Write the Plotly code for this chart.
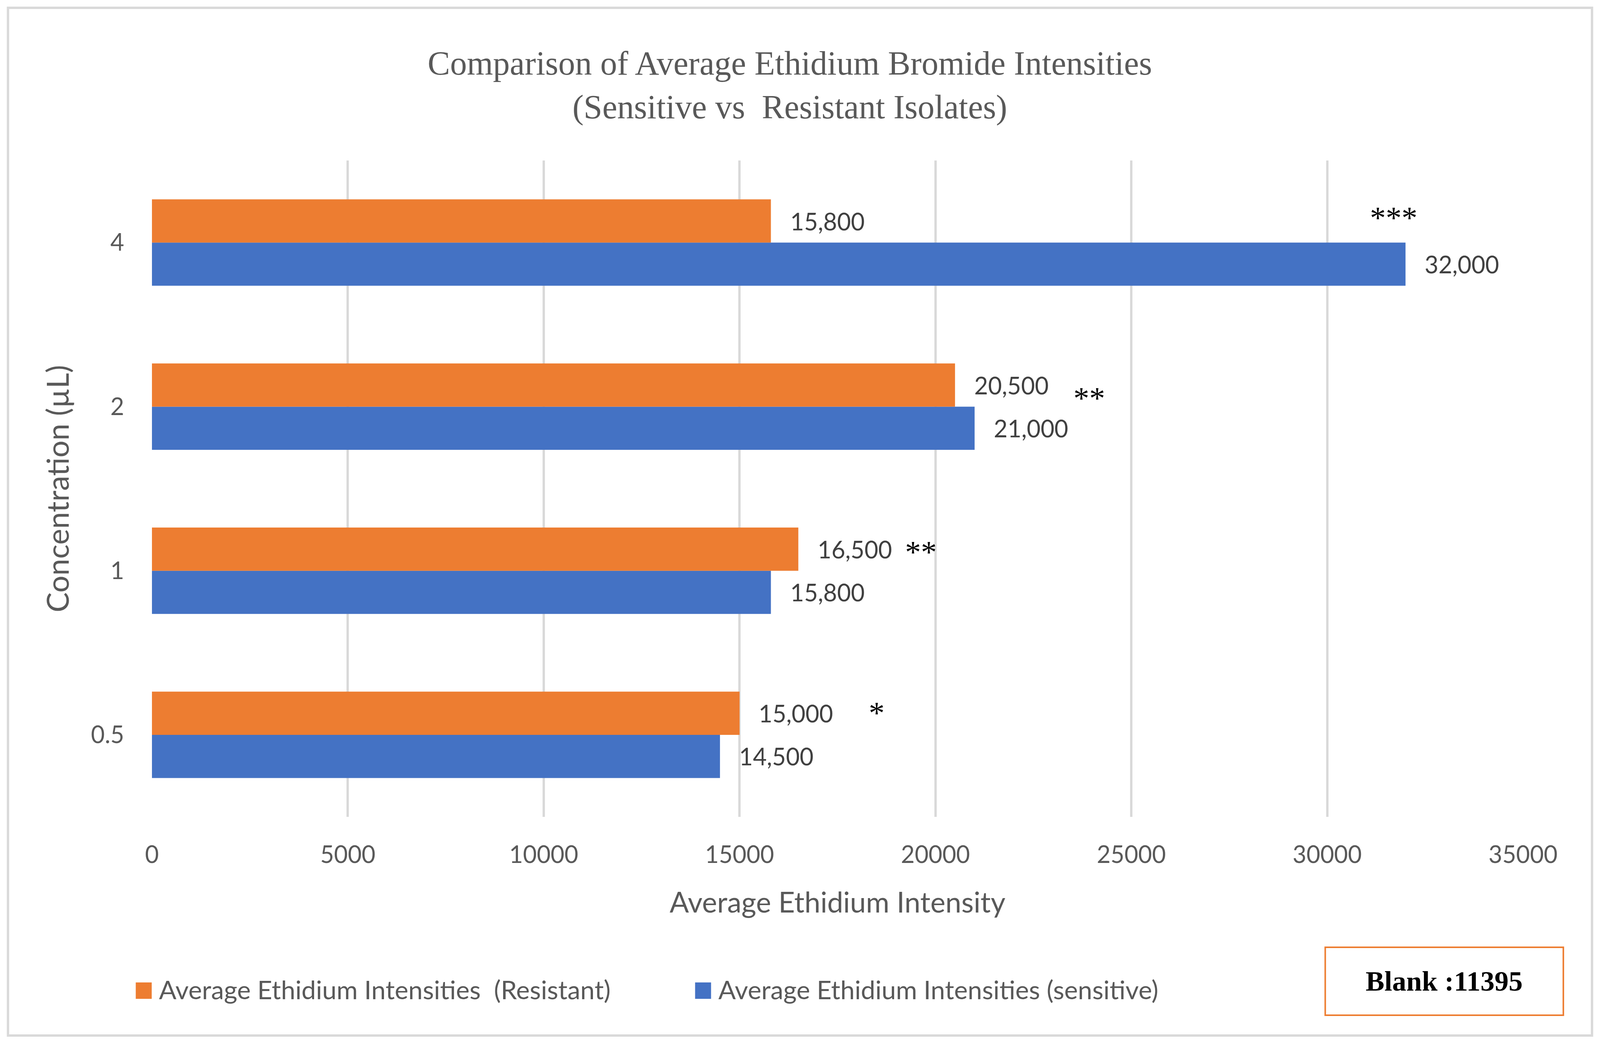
import plotly.graph_objects as go

# ---------------- data ----------------
concentrations = ["0.5", "1", "2", "4"]
sensitive = [14500, 15800, 21000, 32000]
resistant = [15000, 16500, 20500, 15800]
significance = ["*", "**", "**", "***"]
sig_x = [18500, 19630, 23930, 31700]
x_ticks = [0, 5000, 10000, 15000, 20000, 25000, 30000, 35000]
name_res = "Average Ethidium Intensities\u00a0 (Resistant)"
name_sen = "Average Ethidium Intensities (sensitive)"
title_text = "Comparison of Average Ethidium Bromide Intensities<br>(Sensitive vs\u00a0 Resistant Isolates)"
blank_text = "Blank :11395"

ORANGE = "#ED7D31"
BLUE = "#4472C4"
GRAY_TXT = "#595959"
LABEL_TXT = "#404040"
GRID = "#D9D9D9"

# page viewport ~4096 css px wide; map reference (4408 x 2666) coordinates onto it
SX = 4096 / 4408
OFF = 8
W, H = 4080, 2650
FS = 0.94  # font scale


def fx(X):
    return X * SX - OFF


def fy(Y):
    return Y - OFF


L = round(fx(419))
R = round(W - fx(4196))
T = round(fy(411))
B = round(H - fy(2092))
PW, PH = W - L - R, H - T - B


def px(X):
    return (fx(X) - L) / PW


def py(Y):
    return (H - B - fy(Y)) / PH


def fs(s):
    return round(s * FS)


SANS = "Lato"
SERIF = "Liberation Serif"

fig = go.Figure()
fig.add_trace(go.Bar(y=concentrations, x=sensitive, orientation="h", name=name_sen,
                     marker=dict(color=BLUE, line=dict(width=0)), showlegend=False))
fig.add_trace(go.Bar(y=concentrations, x=resistant, orientation="h", name=name_res,
                     marker=dict(color=ORANGE, line=dict(width=0)), showlegend=False))

ann = []
# data labels (y given as category index)
for i, v in enumerate(sensitive):
    ann.append(dict(x=v, y=i, xref="x", yref="y", text=f"{v:,}", showarrow=False,
                    xanchor="left", yanchor="middle", xshift=47, yshift=-55,
                    font=dict(family=SANS, size=fs(65), color=LABEL_TXT)))
for i, v in enumerate(resistant):
    ann.append(dict(x=v, y=i, xref="x", yref="y", text=f"{v:,}", showarrow=False,
                    xanchor="left", yanchor="middle", xshift=47, yshift=55,
                    font=dict(family=SANS, size=fs(65), color=LABEL_TXT)))
# significance stars
sig_shift = [56, 48, 21, 63]
for i, (s, xv, ys) in enumerate(zip(significance, sig_x, sig_shift)):
    ann.append(dict(x=xv, y=i, xref="x", yref="y", text=s, showarrow=False,
                    xanchor="center", yanchor="middle", yshift=ys,
                    font=dict(family=SERIF, size=fs(86), color="#000000")))

# custom legend
shapes = []
leg_y = 2537
for x0, col, name in [(374, ORANGE, name_res), (1915, BLUE, name_sen)]:
    shapes.append(dict(type="rect", xref="paper", yref="paper",
                       x0=px(x0), x1=px(x0 + 44), y0=py(leg_y + 21), y1=py(leg_y - 21),
                       fillcolor=col, line=dict(width=0)))
    ann.append(dict(x=px(x0 + 62), y=py(leg_y - 4), xref="paper", yref="paper", text=name,
                    showarrow=False, xanchor="left", yanchor="middle",
                    font=dict(family=SANS, size=fs(70), color=GRAY_TXT)))

# blank box
shapes.append(dict(type="rect", xref="paper", yref="paper",
                   x0=px(3651), x1=px(4307), y0=py(2600), y1=py(2426),
                   fillcolor="rgba(0,0,0,0)", line=dict(color=ORANGE, width=4)))
ann.append(dict(x=px((3651 + 4307) / 2), y=py(2513), xref="paper", yref="paper",
                text=f"<b>{blank_text}</b>", showarrow=False, xanchor="center", yanchor="middle",
                font=dict(family=SERIF, size=fs(77), color="#000000")))

# outer border
shapes.append(dict(type="rect", xref="paper", yref="paper",
                   x0=px(22), x1=px(4386), y0=py(2652), y1=py(20),
                   fillcolor="rgba(0,0,0,0)", line=dict(color=GRID, width=6), layer="below"))

fig.update_layout(
    width=W, height=H, autosize=False,
    margin=dict(l=L, r=R, t=T, b=B, pad=0),
    paper_bgcolor="white", plot_bgcolor="white",
    barmode="group", bargap=0.474, bargroupgap=0,
    title=dict(text=title_text, x=fx(2176) / W, xref="container", xanchor="center",
               y=1 - 183 / H, yref="container", yanchor="top",
               font=dict(family=SERIF, size=fs(92), color=GRAY_TXT)),
    xaxis=dict(range=[0, 35000], tickvals=x_ticks, ticktext=[str(t) for t in x_ticks],
               showgrid=True, gridcolor=GRID, gridwidth=6, zeroline=False, showline=False,
               ticks="", ticklabelstandoff=56,
               tickfont=dict(family=SANS, size=fs(65), color=GRAY_TXT),
               title=dict(text="Average Ethidium Intensity", standoff=63,
                          font=dict(family=SANS, size=fs(78), color=GRAY_TXT))),
    yaxis=dict(type="category", categoryorder="array", categoryarray=concentrations,
               range=[-0.5, 3.5], autorange=False,
               showgrid=False, zeroline=False, showline=False, ticks="",
               ticklabelstandoff=70,
               tickfont=dict(family=SANS, size=fs(65), color=GRAY_TXT),
               title=dict(text="Concentration (µL)", standoff=30,
                          font=dict(family=SANS, size=fs(82), color=GRAY_TXT))),
    annotations=ann, shapes=shapes,
)

fig.write_html("out.html")
